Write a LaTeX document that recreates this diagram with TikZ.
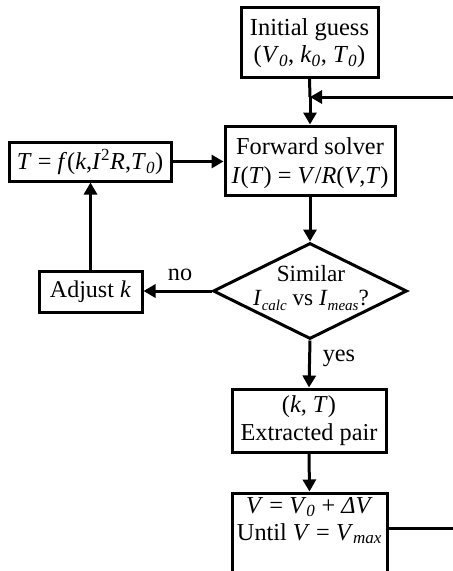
\documentclass[tikz,border=0pt]{standalone}
\usepackage{fontspec}
\setmainfont{Liberation Serif}
\usetikzlibrary{arrows.meta,shapes.geometric}
\newcommand{\sbi}[1]{\textsubscript{\textit{#1}}}
\newcommand{\ssb}[1]{\raisebox{-0.22em}{\fontsize{15}{15}\selectfont\textit{#1}}}
\begin{document}
\begin{tikzpicture}[x=1pt,y=-1pt,
  box/.style={draw,line width=3pt,inner sep=0pt},
  txt/.style={align=center,inner sep=0pt,font=\fontsize{24.3}{28}\selectfont},
  conn/.style={line width=3pt,-{Triangle[length=12pt,width=13pt]}},
  plain/.style={line width=3pt}]
\useasboundingbox (0,0) rectangle (453,571);
\begin{scope}
\clip (0,0) rectangle (453,571);
% boxes
\node[box,minimum width=137pt,minimum height=70pt] (init) at (309.5,42) {};
\node[txt,font=\fontsize{24.5}{27}\selectfont] (initT) at (309.5,43) {Initial guess\\(\textit{V}\sbi{0}, \textit{k}\sbi{0}, \textit{T}\sbi{0})};
\node[box,minimum width=170pt,minimum height=69pt] (fwd) at (310,160.5) {};
\node[txt,font=\fontsize{24.3}{29}\selectfont] (fwdT) at (310,163) {Forward solver\\\textit{I}(\textit{T}) = \textit{V}/\textit{R}(\textit{V},\textit{T})};
\node[box,minimum width=162pt,minimum height=39pt] (tf) at (90,161.5) {};
\node[txt] (tfT) at (90,162) {\textit{T} = \textit{f}(\textit{k},\textit{I}\textsuperscript{2}\textit{R},\textit{T}\sbi{0})};
\node[diamond,draw,line width=3pt,inner sep=0pt,minimum width=194pt,minimum height=96pt] (dec) at (310,291) {};
\node[txt,font=\fontsize{23.2}{23.5}\selectfont] (decT) at (311,288) {Similar\\\textit{I}\ssb{calc} vs \textit{I}\ssb{meas}?};
\node[box,minimum width=103pt,minimum height=41pt] (adj) at (90.5,291.5) {};
\node[txt,font=\fontsize{24}{28}\selectfont] (adjT) at (90.5,292) {Adjust \textit{k}};
\node[box,minimum width=154pt,minimum height=63pt] (pair) at (309,420.5) {};
\node[txt] (pairT) at (309,421) {(\textit{k}, \textit{T})\\Extracted pair};
\node[box,minimum width=155pt,minimum height=90pt] (vb) at (309.5,538) {};
\node[txt,font=\fontsize{24.3}{27}\selectfont,anchor=north] (vbT) at (309.5,497) {\textit{V} = \textit{V}\sbi{0} + \textit{ΔV}\\Until \textit{V} = \textit{V}\sbi{max}};
% labels
\node[txt] (no) at (180,275) {no};
\node[txt] (yes) at (339,358) {yes};
% coordinates
\coordinate (j) at (310,97);
\coordinate (r1) at (453,97);
\coordinate (r2) at (453,528);
% connectors
\draw[plain] (init.south) -- (j);
\draw[conn] (j) -- (fwd.north);
\draw[conn] (r1) -- (j);
\draw[conn] (tf.east) -- (tf.east -| fwd.west);
\draw[conn] (fwd.south) -- (dec.north);
\draw[conn] (dec.west) -- (adj.east |- dec.west);
\draw[conn] (adj.north) -- (adj.north |- tf.south);
\draw[conn] (dec.south) -- (pair.north);
\draw[conn] (pair.south) -- (vb.north);
\draw[plain] (vb.east |- r2) -- (r2);
\end{scope}
\end{tikzpicture}
\end{document}
